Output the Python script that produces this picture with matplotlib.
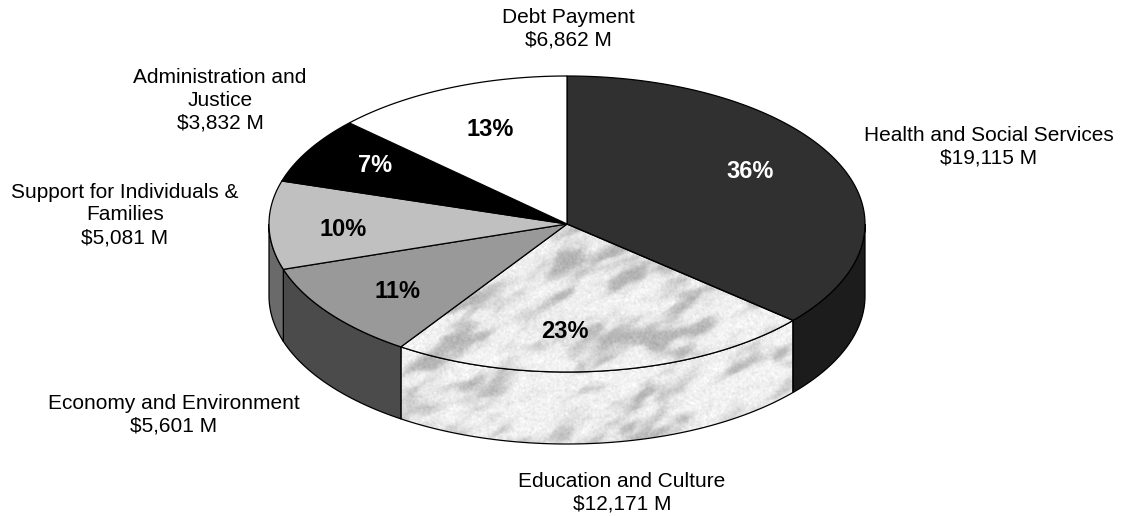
import numpy as np
import matplotlib
matplotlib.use("Agg")
import matplotlib.pyplot as plt
from matplotlib.patches import Polygon

plt.rcParams['font.family'] = ['Liberation Sans', 'DejaVu Sans']

# Budget spending by sector (millions of dollars), clockwise from 12 o'clock
categories = ["Health and Social Services", "Education and Culture",
              "Economy and Environment", "Support for Individuals &\nFamilies",
              "Administration and\nJustice", "Debt Payment"]
values = [19115, 12171, 5601, 5081, 3832, 6862]
top_colors = ["#303030", None, "#999999", "#c0c0c0", "#000000", "#ffffff"]
side_colors = ["#1c1c1c", None, "#4b4b4b", "#6a6a6a", "#000000", "#ffffff"]
pct_colors = ["white", "black", "black", "black", "white", "black"]

# Label placement (pixel coordinates of the block centre)
label_pos = [(989, 147), (622, 493), (174, 415), (125, 215), (220, 100), (568, 29)]
pct_pos = [(750, 172), (565, 332), (397, 292), (343, 229), (375, 165), (490, 130)]

W, H = 1124, 516
fig = plt.figure(figsize=(W / 100, H / 100), dpi=100)
ax = fig.add_axes([0, 0, 1, 1])
ax.set_xlim(0, W)
ax.set_ylim(H, 0)
ax.axis("off")

cx, cy, a, b, depth = 567, 224, 298, 148, 72
total = float(sum(values))
fracs = [v / total for v in values]

# Angles in degrees, counter-clockwise convention, slices run clockwise from 90
bounds = [90.0]
for f in fracs:
    bounds.append(bounds[-1] - f * 360.0)


def ell(theta_deg, dy=0.0):
    t = np.deg2rad(theta_deg)
    return cx + a * np.cos(t), cy - b * np.sin(t) + dy


def arc(t1, t2, dy=0.0, n=120):
    ts = np.linspace(t1, t2, n)
    xs, ys = ell(ts, dy)
    return np.column_stack([xs, ys])


def smooth_noise(rng, shape, su, sv, ang_deg):
    h, w = shape
    ky = np.fft.fftfreq(h)[:, None]
    kx = np.fft.fftfreq(w)[None, :]
    ang = np.deg2rad(ang_deg)
    u = kx * np.cos(ang) + ky * np.sin(ang)
    v = -kx * np.sin(ang) + ky * np.cos(ang)
    filt = np.exp(-((u / su) ** 2 + (v / sv) ** 2))
    f = np.real(np.fft.ifft2(np.fft.fft2(rng.standard_normal(shape)) * filt))
    return (f - f.mean()) / f.std()


# Marble texture for the education slice
rng = np.random.default_rng(3)
tx0, tx1, ty0, ty1 = 380, 820, 210, 460
shape = (ty1 - ty0, tx1 - tx0)
coarse = smooth_noise(rng, shape, 0.014, 0.04, -28)
medium = smooth_noise(rng, shape, 0.035, 0.08, -28)
fine = smooth_noise(rng, shape, 0.3, 0.3, 0)
blot = 1.0 / (1.0 + np.exp(-2.2 * (0.75 * coarse + 0.45 * medium - 0.7)))
tex = 0.95 - 0.25 * blot - 0.018 * fine
tex = np.clip(tex, 0, 1)


def marble(poly):
    ax.add_patch(poly)
    im = ax.imshow(tex, cmap="gray", vmin=0, vmax=1, origin="upper",
                   extent=(tx0, tx1, ty1, ty0), aspect="auto", zorder=poly.get_zorder(),
                   interpolation="bilinear")
    im.set_clip_path(poly)


# Side walls (only the front half, angles between 180 and 360)
for i in range(len(values)):
    hi, lo = bounds[i], bounds[i + 1]
    s1, s2 = min(hi, 0.0), max(lo, -180.0)
    if s1 <= s2:
        continue
    top = arc(s1, s2)
    bot = arc(s2, s1, depth)
    pts = np.vstack([top, bot])
    if side_colors[i] is None:
        poly = Polygon(pts, closed=True, facecolor="none", edgecolor="none", zorder=1)
        marble(poly)
        ax.add_patch(Polygon(pts, closed=True, facecolor="none", edgecolor="black",
                             lw=0.9, zorder=2))
    else:
        ax.add_patch(Polygon(pts, closed=True, facecolor=side_colors[i],
                             edgecolor="black", lw=0.9, zorder=2))

# Top faces
for i in range(len(values)):
    pts = np.vstack([[cx, cy], arc(bounds[i], bounds[i + 1])])
    if top_colors[i] is None:
        poly = Polygon(pts, closed=True, facecolor="none", edgecolor="none", zorder=3)
        marble(poly)
        ax.add_patch(Polygon(pts, closed=True, facecolor="none", edgecolor="black",
                             lw=0.9, zorder=4))
    else:
        ax.add_patch(Polygon(pts, closed=True, facecolor=top_colors[i],
                             edgecolor="black", lw=0.9, zorder=4))

# Percent labels and category labels
for i, val in enumerate(values):
    pct = round(100 * val / total)
    ax.text(*pct_pos[i], f"{pct}%", ha="center", va="center", fontsize=17,
            fontweight="bold", color=pct_colors[i], zorder=5)
    ax.text(*label_pos[i], f"{categories[i]}\n${val:,} M", ha="center",
            va="center", fontsize=15, linespacing=1.25, color="black", zorder=5)

fig.savefig("out.png", dpi=100, facecolor="white")
